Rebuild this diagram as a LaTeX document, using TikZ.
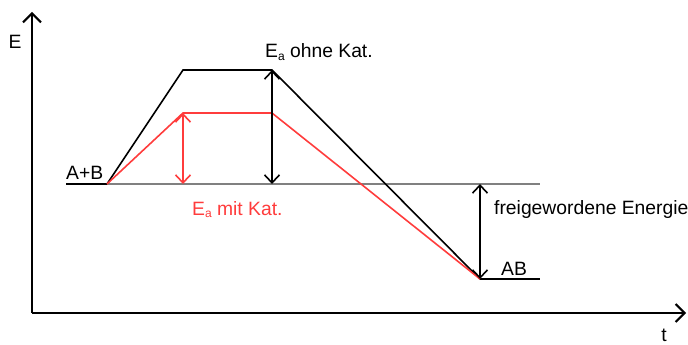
\documentclass[tikz,border=0pt]{standalone}
\usepackage{fontspec}
\setmainfont{Liberation Sans}
\usetikzlibrary{arrows.meta}
\definecolor{myred}{RGB}{255,60,60}
\begin{document}
\begin{tikzpicture}[x=1pt,y=-1pt,
  lbl/.style={font=\fontsize{19.3}{22}\selectfont, inner sep=0pt},
  axis/.style={line width=2pt, -{Straight Barb[length=9pt,width=18pt,line width=2pt]}},
  curve/.style={line width=1.6pt, line join=miter},
  dbl/.style={line width=1.6pt, {Straight Barb[length=8pt,width=15pt,line width=1.6pt]}-{Straight Barb[length=8pt,width=15pt,line width=1.6pt]}}]
\useasboundingbox (0,0) rectangle (688,345);
\newcommand{\Ea}{E\raisebox{-0.12em}{\fontsize{12}{12}\selectfont a}}
% coordinates
\coordinate (O) at (32,313);
\coordinate (Ytop) at (32,12);
\coordinate (Xend) at (686,313);
\coordinate (L0) at (66,184);
\coordinate (S) at (107,184);
\coordinate (Bend) at (540,184);
\coordinate (K1) at (183,70);
\coordinate (K2) at (272,70);
\coordinate (R1) at (183,113);
\coordinate (R2) at (272,113);
\coordinate (P) at (480,279);
\coordinate (Pend) at (540,279);
\coordinate (Rb) at (183,184);
\coordinate (Kb) at (272,184);
\coordinate (Fb) at (480,184);
% axes
\draw[axis] (O) -- (Ytop);
\draw[axis] (O) -- (Xend);
% levels
\draw[line width=1.6pt] (L0) -- (S);
\draw[line width=1.4pt, gray] (S) -- (Bend);
\draw[line width=1.6pt] (P) -- (Pend);
% paths
\draw[curve] (S) -- (K1) -- (K2) -- (P);
\draw[curve, myred] (S) -- (R1) -- (R2) -- (P);
% arrows
\draw[dbl, myred] (R1) -- (Rb);
\draw[dbl] (K2) -- (Kb);
\draw[dbl] (Fb) -- (P);
% labels
\node[lbl, anchor=center] (E) at (15,42) {E};
\node[lbl, anchor=center] (t) at (664,335) {t};
\node[lbl, anchor=base west] (AplusB) at (66,179) {A+B};
\node[lbl, anchor=base west] (AB) at (501,275) {AB};
\node[lbl, anchor=base west] (frei) at (494,214) {freigewordene Energie};
\node[lbl, anchor=base west] (ohne) at (265,58) {\Ea{} ohne Kat.};
\node[lbl, anchor=base west, text=myred] (mit) at (192,215) {\Ea{} mit Kat.};
\end{tikzpicture}
\end{document}
